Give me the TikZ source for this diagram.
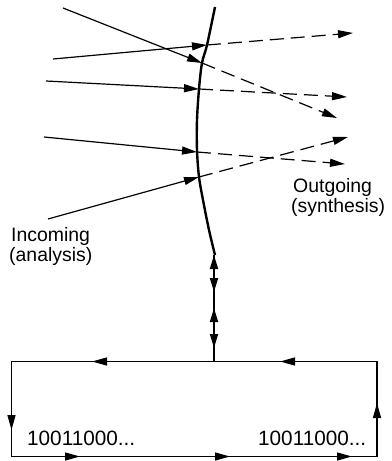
\documentclass[tikz,border=0pt]{standalone}
\usepackage{fontspec}
\setmainfont{Liberation Sans}
\usetikzlibrary{arrows.meta}
\begin{document}
\begin{tikzpicture}[x=1bp,y=-1bp,
  thin line/.style={line width=1.2bp},
  tipped/.style={thin line,-{Triangle[length=15bp,width=8bp]}},
  dtipped/.style={{Triangle[length=14bp,width=8bp]}-{Triangle[length=14bp,width=8bp]}},
  dashray/.style={tipped,dash pattern=on 14bp off 7bp},
  lbl/.style={inner sep=0pt,anchor=base west,font=\fontsize{19.5}{22}\selectfont},
  bits/.style={inner sep=0pt,anchor=base west,font=\fontsize{20.8}{24}\selectfont}]
\useasboundingbox (0,0) rectangle (391,461);
% curve
\coordinate (ctop) at (215,7);
\coordinate (cbot) at (215,255);
\draw[line width=2.4bp] plot[smooth,tension=0.55] coordinates {(ctop) (207,45) (202,63) (199,89) (197,120) (197,150) (199,177) (203,200) (209,230) (cbot)};
% ray start points, crossing points, ends
\coordinate (s1) at (63,8);   \coordinate (c1) at (202,63);  \coordinate (e1) at (337,118);
\coordinate (s2) at (53,59);  \coordinate (c2) at (207,45);  \coordinate (e2) at (353,33);
\coordinate (s3) at (46,81);  \coordinate (c3) at (199,89);  \coordinate (e3) at (347,97);
\coordinate (s4) at (44,137); \coordinate (c4) at (197,152); \coordinate (e4) at (345,164);
\coordinate (s5) at (48,219); \coordinate (c5) at (199,177); \coordinate (e5) at (348,137);
\foreach \i in {1,...,5}{
  \draw[tipped] (s\i) -- (c\i);
  \draw[dashray] (c\i) -- (e\i);
}
% labels
\node[lbl] (out1) at (293,193) {Outgoing};
\node[lbl] (out2) at (291,213) {(synthesis)};
\node[lbl] (in1) at (11,241) {Incoming};
\node[lbl] (in2) at (9,261) {(analysis)};
% vertical link
\coordinate (v1) at (214,255);
\coordinate (v2) at (214,292);
\coordinate (v3) at (214,308);
\coordinate (v4) at (214,348);
\coordinate (vb) at (214,361.5);
\draw[line width=1.8bp] (v1) -- (vb);
\draw[dtipped,line width=1.8bp] (v1) -- (v2);
\draw[dtipped,line width=1.8bp] (v3) -- (v4);
% loop box
\coordinate (tl) at (11.5,361.5);
\coordinate (tr) at (377,361.5);
\coordinate (bl) at (11.5,456.5);
\coordinate (br) at (377,456.5);
\draw[thin line] (tl) -- (tr) -- (br) -- (bl) -- cycle;
\draw[tipped] (tr) -- (280,361.5);
\draw[tipped] (vb) -- (92,361.5);
\draw[tipped] (tl) -- (11.5,430);
\draw[tipped] (bl) -- (80,456.5);
\draw[tipped] (80,456.5) -- (230,456.5);
\draw[tipped] (230,456.5) -- (352,456.5);
\draw[tipped] (br) -- (377,403);
\node[bits] (b1) at (27,445) {10011000...};
\node[bits] (b2) at (258,445) {10011000...};
\end{tikzpicture}
\end{document}
